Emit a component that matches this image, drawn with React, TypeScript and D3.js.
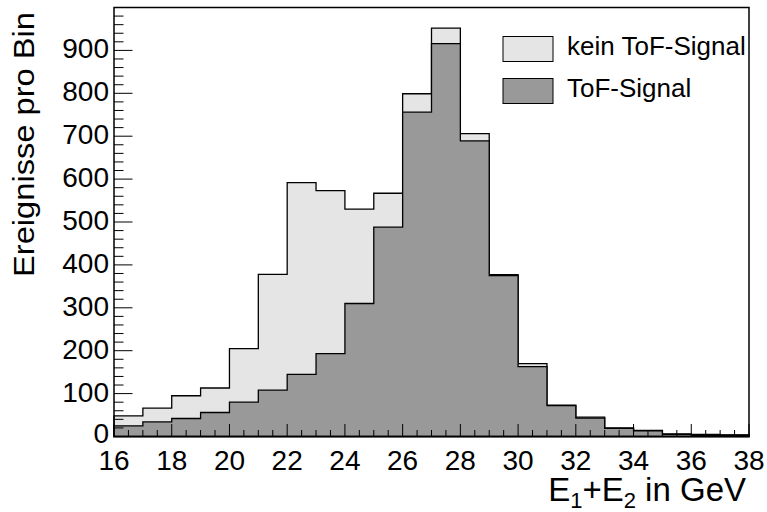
import React, { useEffect, useRef } from 'react';
import * as d3 from 'd3';

// bin edges run from 16 to 38 GeV, 1 GeV per bin
const binEdges = d3.range(16, 39, 1);
const noTofCounts = [48, 66, 95, 113, 205, 378, 592, 573, 530, 567, 799, 952, 706, 377, 170, 73, 45, 20, 14, 6, 5, 4];
const tofCounts = [25, 34, 42, 56, 80, 108, 145, 193, 310, 488, 756, 916, 689, 375, 163, 72, 43, 19, 13, 5, 3, 3];
const xTickLabels = [16, 18, 20, 22, 24, 26, 28, 30, 32, 34, 36, 38];
const yTickLabels = [0, 100, 200, 300, 400, 500, 600, 700, 800, 900];
const legendItems = [
  { label: 'kein ToF-Signal', fill: '#e5e5e5' },
  { label: 'ToF-Signal', fill: '#999999' },
];

const App = () => {
  const ref = useRef<SVGSVGElement>(null);

  useEffect(() => {
    const svg = d3.select(ref.current);
    svg.selectAll('*').remove();

    const width = 767;
    const height = 512;
    const margin = { top: 7.5, right: 18, bottom: 75.5, left: 114 };
    const font = '"Liberation Sans", Arial, Helvetica, sans-serif';

    const x = d3.scaleLinear()
      .domain([16, 38])
      .range([margin.left, width - margin.right]);
    const y = d3.scaleLinear()
      .domain([0, 1000])
      .range([height - margin.bottom, margin.top]);

    // step shaped histogram outlines
    const area = d3.area<[number, number]>()
      .curve(d3.curveStepAfter)
      .x(d => x(d[0]))
      .y0(y(0))
      .y1(d => y(d[1]));

    const toPoints = (counts: number[]): [number, number][] => {
      const pts = counts.map((c, i) => [binEdges[i], c] as [number, number]);
      pts.push([binEdges[binEdges.length - 1], counts[counts.length - 1]]);
      return pts;
    };

    [noTofCounts, tofCounts].forEach((counts, i) => {
      svg.append('path')
        .attr('d', area(toPoints(counts)))
        .attr('fill', legendItems[i].fill)
        .attr('stroke', '#000')
        .attr('stroke-width', 1.3)
        .attr('stroke-linejoin', 'miter');
    });

    // frame
    svg.append('rect')
      .attr('x', x(16))
      .attr('y', y(1000))
      .attr('width', x(38) - x(16))
      .attr('height', y(0) - y(1000))
      .attr('fill', 'none')
      .attr('stroke', '#000')
      .attr('stroke-width', 1.5);

    // x ticks (inside, pointing up)
    const xMinor = d3.range(16, 38.01, 0.5);
    svg.append('g')
      .selectAll('line')
      .data(xMinor)
      .enter().append('line')
      .attr('x1', d => x(d))
      .attr('x2', d => x(d))
      .attr('y1', y(0))
      .attr('y2', d => y(0) - (d % 2 === 0 ? 12.5 : 6.5))
      .attr('stroke', '#000')
      .attr('stroke-width', 1);

    svg.append('g')
      .selectAll('text')
      .data(xTickLabels)
      .enter().append('text')
      .attr('x', d => x(d))
      .attr('y', 470)
      .attr('text-anchor', 'middle')
      .attr('font-family', font)
      .attr('font-size', 28)
      .text(d => d);

    // y ticks (inside, pointing right)
    const yMinor = d3.range(0, 1000, 20);
    svg.append('g')
      .selectAll('line')
      .data(yMinor)
      .enter().append('line')
      .attr('x1', x(16))
      .attr('x2', d => x(16) + (d % 100 === 0 ? 18.5 : 9.5))
      .attr('y1', d => y(d))
      .attr('y2', d => y(d))
      .attr('stroke', '#000')
      .attr('stroke-width', 1);

    svg.append('g')
      .selectAll('text')
      .data(yTickLabels)
      .enter().append('text')
      .attr('x', 109)
      .attr('y', d => y(d) + (d === 0 ? 6 : 8))
      .attr('text-anchor', 'end')
      .attr('font-family', font)
      .attr('font-size', 28)
      .text(d => d);

    // y axis title
    svg.append('text')
      .attr('transform', 'translate(34,277) rotate(-90)')
      .attr('font-family', font)
      .attr('font-size', 29)
      .attr('textLength', 265)
      .attr('lengthAdjust', 'spacingAndGlyphs')
      .text('Ereignisse pro Bin');

    // x axis title with subscripts
    const xt = svg.append('text')
      .attr('x', 746)
      .attr('y', 501)
      .attr('text-anchor', 'end')
      .attr('font-family', font)
      .attr('font-size', 33);
    xt.append('tspan').text('E');
    xt.append('tspan').attr('font-size', 22).attr('dy', 7).text('1');
    xt.append('tspan').attr('dy', -7).text('+E');
    xt.append('tspan').attr('font-size', 22).attr('dy', 7).text('2');
    xt.append('tspan').attr('dy', -7).text(' in GeV');

    // legend
    const legend = svg.append('g');
    legendItems.forEach((item, i) => {
      const top = 36.5 + i * 42;
      legend.append('rect')
        .attr('x', 503)
        .attr('y', top)
        .attr('width', 50)
        .attr('height', 25)
        .attr('fill', item.fill)
        .attr('stroke', '#000')
        .attr('stroke-width', 1);
      legend.append('text')
        .attr('x', 567)
        .attr('y', top + 18)
        .attr('font-family', font)
        .attr('font-size', 26)
        .text(item.label);
    });
  }, []);

  return (
    <svg ref={ref} width="767" height="512" style={{ position: 'absolute', left: 0, top: 0, background: '#fff' }}></svg>
  );
};

export default App;
